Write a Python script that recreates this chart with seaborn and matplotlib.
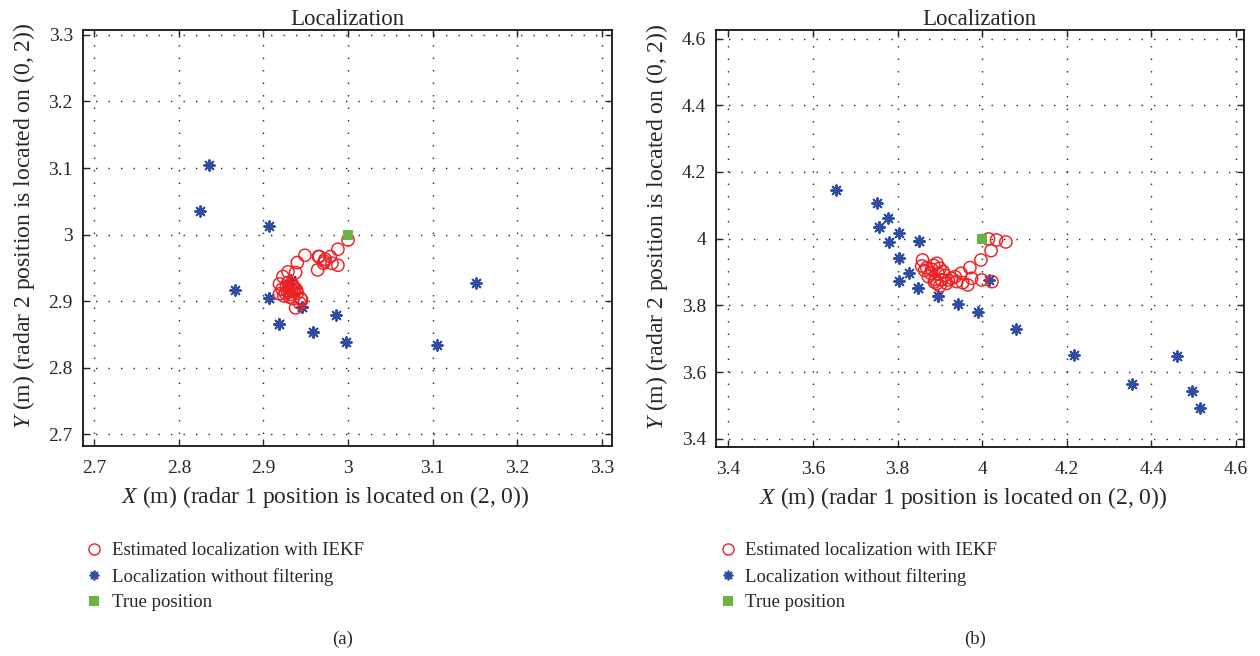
import numpy as np
import pandas as pd
import seaborn as sns
import matplotlib
matplotlib.use("Agg")
import matplotlib.pyplot as plt
from matplotlib.lines import Line2D

# ---- panel (a): true position (3, 3) ----
a_iekf_x = [3.000, 2.988, 2.965, 2.979, 2.972, 2.981, 2.988, 2.964, 2.971, 2.949,
            2.940, 2.938, 2.929, 2.923, 2.919, 2.931, 2.919, 2.924, 2.935, 2.944,
            2.938, 2.943, 2.935, 2.927, 2.939, 2.933, 2.930, 2.936, 2.928, 2.932,
            2.926, 2.940, 2.934, 2.929, 2.937, 2.931, 2.922, 2.966, 2.973, 2.945]
a_iekf_y = [2.992, 2.978, 2.967, 2.967, 2.960, 2.957, 2.954, 2.947, 2.957, 2.969,
            2.958, 2.943, 2.944, 2.937, 2.926, 2.914, 2.911, 2.908, 2.904, 2.904,
            2.890, 2.897, 2.922, 2.922, 2.917, 2.918, 2.920, 2.915, 2.916, 2.910,
            2.912, 2.912, 2.925, 2.928, 2.920, 2.906, 2.918, 2.967, 2.963, 2.902]
a_raw_x = [2.825, 2.836, 2.906, 2.866, 2.906, 2.906, 2.918, 2.918, 2.958, 2.958,
           2.946, 2.946, 2.933, 2.986, 2.997, 3.105, 3.151]
a_raw_y = [3.036, 3.105, 3.013, 2.917, 2.905, 2.905, 2.865, 2.865, 2.853, 2.853,
           2.892, 2.892, 2.932, 2.879, 2.839, 2.834, 2.928]
a_true_x = [3.0]
a_true_y = [3.0]

# ---- panel (b): true position (4, 4) ----
b_iekf_x = [4.015, 4.034, 4.056, 4.021, 3.997, 3.971, 3.950, 3.975, 3.999, 4.023,
            3.966, 3.940, 3.928, 3.916, 3.859, 3.857, 3.869, 3.893, 3.881, 3.900,
            3.908, 3.873, 3.889, 3.893, 3.904, 3.900, 3.920, 3.936, 3.954, 3.885,
            3.878, 3.912, 3.896, 3.864, 3.887]
b_iekf_y = [3.999, 3.996, 3.990, 3.964, 3.936, 3.913, 3.896, 3.881, 3.876, 3.871,
            3.861, 3.871, 3.881, 3.866, 3.936, 3.918, 3.913, 3.926, 3.908, 3.911,
            3.901, 3.886, 3.878, 3.866, 3.876, 3.858, 3.876, 3.886, 3.868, 3.920,
            3.896, 3.890, 3.895, 3.905, 3.870]
b_raw_x = [3.655, 3.752, 3.778, 3.755, 3.755, 3.803, 3.779, 3.851, 3.851, 3.803,
           3.803, 3.826, 3.803, 3.849, 3.849, 3.896, 3.896, 3.942, 3.990, 4.017,
           4.081, 4.217, 4.460, 4.354, 4.497, 4.514]
b_raw_y = [4.147, 4.107, 4.061, 4.035, 4.035, 4.016, 3.990, 3.993, 3.993, 3.943,
           3.943, 3.896, 3.873, 3.851, 3.851, 3.828, 3.828, 3.804, 3.781, 3.876,
           3.730, 3.651, 3.649, 3.564, 3.544, 3.491]
b_true_x = [4.0]
b_true_y = [4.0]

a_ticks = [2.7, 2.8, 2.9, 3.0, 3.1, 3.2, 3.3]
a_ticklabels = ["2.7", "2.8", "2.9", "3", "3.1", "3.2", "3.3"]
b_ticks = [3.4, 3.6, 3.8, 4.0, 4.2, 4.4, 4.6]
b_ticklabels = ["3.4", "3.6", "3.8", "4", "4.2", "4.4", "4.6"]

legend_labels = ["Estimated localization with IEKF",
                 "Localization without filtering",
                 "True position"]

RED = "#ee2024"
BLUE = "#2e4ea3"
GREEN = "#6cb344"

sns.set_style("ticks")
plt.rcParams["font.family"] = ["Liberation Serif", "DejaVu Serif"]
plt.rcParams["mathtext.fontset"] = "custom"
plt.rcParams["mathtext.rm"] = "Liberation Serif"
plt.rcParams["mathtext.it"] = "Liberation Serif:italic"

FS_TICK = 14
FS_LABEL = 17
FS_LEG = 13.5
fig = plt.figure(figsize=(12.6, 6.56), dpi=100)
ax_a = fig.add_axes([0.0656, 0.320, 0.4198, 0.635])
ax_b = fig.add_axes([0.5680, 0.319, 0.4193, 0.636])

asterisk = (8, 2, 0)


def draw(ax, iekf_x, iekf_y, raw_x, raw_y, true_x, true_y, ticks, ticklabels,
         xlim, ylim, tag, legend_x, xlabel_x):
    iekf = pd.DataFrame({"x": iekf_x, "y": iekf_y})
    raw = pd.DataFrame({"x": raw_x, "y": raw_y})
    true = pd.DataFrame({"x": true_x, "y": true_y})
    sns.scatterplot(data=raw, x="x", y="y", ax=ax, marker=asterisk, s=60,
                    color=BLUE, edgecolor=BLUE, linewidth=1.4, zorder=3)
    sns.scatterplot(data=iekf, x="x", y="y", ax=ax, marker="o", s=78,
                    facecolor="none", edgecolor=RED, linewidth=1.05, zorder=4)
    sns.scatterplot(data=true, x="x", y="y", ax=ax, marker="s", s=55,
                    color=GREEN, edgecolor=GREEN, linewidth=0, zorder=5)
    ax.set_xlim(*xlim)
    ax.set_ylim(*ylim)
    ax.set_xticks(ticks)
    ax.set_xticklabels(ticklabels)
    ax.set_yticks(ticks)
    ax.set_yticklabels(ticklabels)
    ax.grid(True, color="#222222", linestyle=(0, (1, 8)), linewidth=1.0)
    ax.tick_params(direction="in", top=True, right=True, length=5, width=1,
                   labelsize=FS_TICK, pad=10)
    ax.tick_params(axis="y", pad=7)
    for sp in ax.spines.values():
        sp.set_visible(True)
        sp.set_linewidth(1.2)
        sp.set_color("black")
    ax.set_title("Localization", fontsize=FS_LABEL - 0.5, pad=3)
    ax.set_xlabel(r"$\mathit{X}$ (m) (radar 1 position is located on (2, 0))",
                  fontsize=FS_LABEL, labelpad=5)
    ax.set_ylabel(r"$\mathit{Y}$ (m) (radar 2 position is located on (0, 2))",
                  fontsize=FS_LABEL, labelpad=8)
    ax.xaxis.label.set_x(xlabel_x)
    ax.yaxis.label.set_y(0.528)
    handles = [
        Line2D([], [], linestyle="none", marker="o", markersize=8,
               markerfacecolor="none", markeredgecolor=RED, markeredgewidth=1.0),
        Line2D([], [], linestyle="none", marker=asterisk, markersize=7,
               color=BLUE, markeredgewidth=1.3),
        Line2D([], [], linestyle="none", marker="s", markersize=7,
               color=GREEN, markeredgewidth=0),
    ]
    ax.legend(handles, legend_labels, loc="upper left",
              bbox_to_anchor=(legend_x, 0.185), bbox_transform=fig.transFigure,
              frameon=False, fontsize=FS_LEG, handlelength=1.0, handletextpad=0.45,
              labelspacing=0.45, borderaxespad=0)
    pos = ax.get_position()
    fig.text(pos.x0 + pos.width / 2 - 0.004, 0.025, tag, ha="center",
             va="center", fontsize=FS_LEG)


draw(ax_a, a_iekf_x, a_iekf_y, a_raw_x, a_raw_y, a_true_x, a_true_y,
     a_ticks, a_ticklabels, (2.6863, 3.3115), (2.6824, 3.308), "(a)", 0.061,
     0.458)
draw(ax_b, b_iekf_x, b_iekf_y, b_raw_x, b_raw_y, b_true_x, b_true_y,
     b_ticks, b_ticklabels, (3.370, 4.619), (3.376, 4.627), "(b)", 0.564,
     0.468)

fig.savefig("out.png", dpi=100)
